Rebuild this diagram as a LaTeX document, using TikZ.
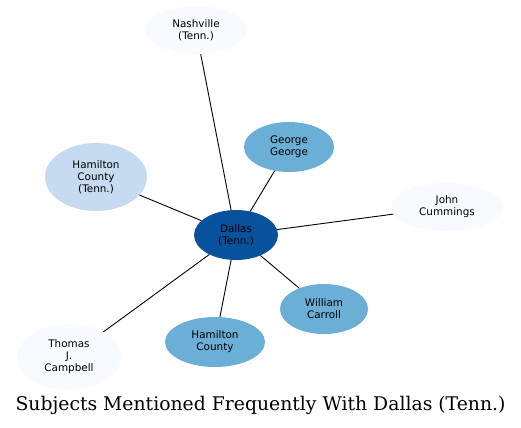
\documentclass[tikz,border=0pt]{standalone}
\usepackage{fontspec}
\setmainfont{DejaVu Sans}
\newfontfamily\titlefont{DejaVu Serif}
\usetikzlibrary{shapes.geometric}
\definecolor{cA}{HTML}{F7FBFF}
\definecolor{cB}{HTML}{C6DBEF}
\definecolor{cC}{HTML}{6BAED6}
\definecolor{cD}{HTML}{08519C}
\tikzset{
  ent/.style={ellipse, draw=none, inner sep=0pt, align=center,
    font=\fontsize{10.4bp}{12bp}\selectfont},
  link/.style={draw=black, line width=0.9bp}
}
\begin{document}
\begin{tikzpicture}[x=1bp, y=-1bp]
\useasboundingbox (0,0) rectangle (521,427);
\node[ent, fill=cA, minimum width=102bp, minimum height=48bp] (nash) at (196,30) {Nashville\\(Tenn.)};
\node[ent, fill=cC, minimum width=90bp, minimum height=50bp] (gg) at (289,147) {George\\George};
\node[ent, fill=cB, minimum width=102bp, minimum height=68bp] (hct) at (96,177) {Hamilton\\County\\(Tenn.)};
\node[ent, fill=cA, minimum width=112bp, minimum height=48bp] (jc) at (447,207) {John\\Cummings};
\node[ent, fill=cD, minimum width=84bp, minimum height=50bp] (dal) at (236,235) {Dallas\\(Tenn.)};
\node[ent, fill=cC, minimum width=88bp, minimum height=50bp] (wc) at (324,309) {William\\Carroll};
\node[ent, fill=cC, minimum width=100bp, minimum height=50bp] (hc) at (215,342) {Hamilton\\County};
\node[ent, fill=cA, minimum width=104bp, minimum height=66bp] (tjc) at (69,357) {Thomas\\J.\\Campbell};
\foreach \n in {nash,gg,hct,jc,wc,hc,tjc} \draw[link] (dal) -- (\n);
\node[font=\titlefont\fontsize{18.8bp}{21bp}\selectfont] (title) at (260.5,405) {Subjects Mentioned Frequently With Dallas (Tenn.)};
\end{tikzpicture}
\end{document}
